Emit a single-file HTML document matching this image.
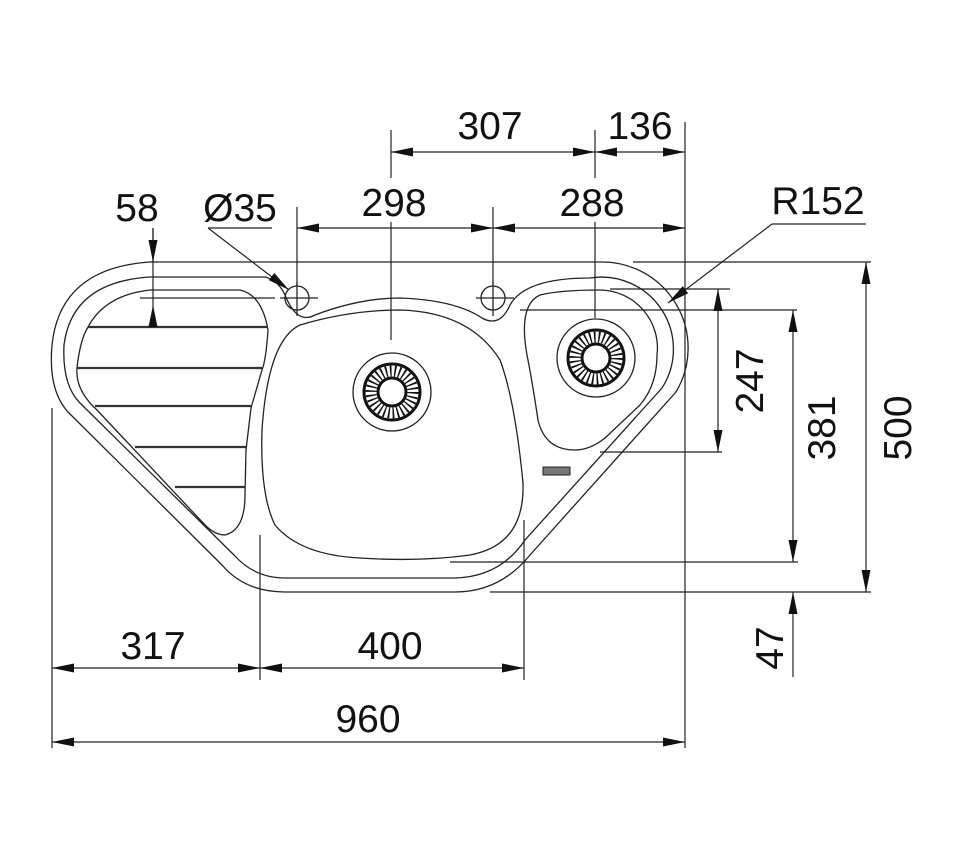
<!DOCTYPE html>
<html><head><meta charset="utf-8"><style>
html,body{margin:0;padding:0;background:#fff}
svg{display:block}
text{font-family:"Liberation Sans",Arial,sans-serif;font-size:39px;fill:#111}
</style></head><body>
<svg width="960" height="860" viewBox="0 0 960 860" xmlns="http://www.w3.org/2000/svg">
<defs>
<marker id="a" viewBox="0 0 22 9" refX="22" refY="4.5" markerWidth="22" markerHeight="9" markerUnits="userSpaceOnUse" orient="auto-start-reverse">
<path d="M0,0 L22,4.5 L0,9 Z" fill="#111"/></marker>
<g id="drain">
<circle r="39" fill="none" stroke="#222" stroke-width="1.3"/>
<circle r="28" fill="none" stroke="#111" stroke-width="3"/>
<circle r="14" fill="none" stroke="#111" stroke-width="3"/>
<circle r="21" fill="none" stroke="#111" stroke-width="11" stroke-dasharray="1.6 2.8"/>
</g>
</defs>
<g fill="none" stroke="#222" stroke-width="1.3">
<path d="M150,262 L600,262 A86,86 0 0 1 676,392 L530,555 Q500,592 455,592 L285,592 Q245,592 222,565 L68,412 Q48,390 52,345 Q60,268 150,262 Z"/>
<path d="M150,277 L265,277 Q278,280 285,295 Q297,325 315,315 Q360,298 400,298 Q455,300 482,318 Q500,328 510,305 Q525,278 590,278 A72,72 0 0 1 662,388 L525,540 Q500,577 455,578 L285,578 Q255,578 235,556 L80,403 Q62,385 64,345 Q72,282 150,277 Z"/>
<path d="M300,325 Q350,310 400,310 Q470,312 500,360 Q515,400 523,483 Q525,545 470,555 Q420,562 360,558 Q300,555 275,525 Q260,495 262,430 Q268,340 300,325 Z"/>
<path d="M540,295 Q560,290 600,290 A58,58 0 0 1 657,355 Q657,385 640,405 L605,438 Q590,450 575,450 Q545,450 538,420 Q532,380 527,355 Q518,305 540,295 Z"/>
<path d="M88,327 Q105,295 150,290 L240,290 Q262,295 268,330 Q266,360 262,370 L251,408 L246,450 L245,495 Q245,530 225,535 Q215,535 205,525 L97,410 Q75,390 77,368 Q80,340 88,327 Z"/>
</g>
<g stroke="#333" stroke-width="2.2">
<line x1="88" y1="327" x2="268" y2="327"/>
<line x1="77" y1="368" x2="262" y2="368"/>
<line x1="95" y1="406" x2="251" y2="406"/>
<line x1="135" y1="447" x2="246" y2="447"/>
<line x1="175" y1="487" x2="245" y2="487"/>
</g>
<g fill="none" stroke="#222" stroke-width="1.3">
<circle cx="297" cy="298" r="12"/><line x1="280" y1="298" x2="318" y2="298"/><line x1="297" y1="282" x2="297" y2="316"/>
<circle cx="493" cy="298" r="12"/><line x1="476" y1="298" x2="514" y2="298"/><line x1="493" y1="282" x2="493" y2="316"/>
</g>
<use href="#drain" x="392" y="392"/>
<use href="#drain" x="596" y="358"/>
<rect x="543" y="467" width="27" height="8" fill="#777" stroke="#222" stroke-width="1"/>
<g stroke="#222" stroke-width="1.2" fill="none">
<line x1="391" y1="130" x2="391" y2="178"/><line x1="391" y1="222" x2="391" y2="340"/>
<line x1="595" y1="130" x2="595" y2="178"/><line x1="595" y1="222" x2="595" y2="318"/>
<line x1="685" y1="122" x2="685" y2="748"/>
<line x1="297" y1="207" x2="297" y2="285"/>
<line x1="493" y1="207" x2="493" y2="285"/>
<line x1="153" y1="228" x2="153" y2="327"/>
<line x1="140" y1="298" x2="275" y2="298"/>
<line x1="633" y1="262" x2="871" y2="262"/>
<line x1="610" y1="289" x2="730" y2="289"/>
<line x1="520" y1="310" x2="797" y2="310"/>
<line x1="600" y1="452" x2="722" y2="452"/>
<line x1="450" y1="562" x2="798" y2="562"/>
<line x1="490" y1="592" x2="871" y2="592"/>
<line x1="52" y1="408" x2="52" y2="748"/>
<line x1="260" y1="535" x2="260" y2="680"/>
<line x1="524" y1="520" x2="524" y2="680"/>
<line x1="208" y1="228" x2="272" y2="228"/>
<line x1="772" y1="224" x2="866" y2="224"/>
</g>
<path d="M148.5,327 L153,305 L157.5,327 Z" fill="#111"/>
<g stroke="#222" stroke-width="1.2" fill="none" marker-end="url(#a)" marker-start="url(#a)">
<line x1="391" y1="152" x2="595" y2="152"/>
<line x1="595" y1="152" x2="685" y2="152"/>
<line x1="297" y1="228" x2="493" y2="228"/>
<line x1="493" y1="228" x2="685" y2="228"/>
<line x1="718" y1="289" x2="718" y2="452"/>
<line x1="793" y1="310" x2="793" y2="562"/>
<line x1="866" y1="262" x2="866" y2="592"/>
<line x1="52" y1="668" x2="260" y2="668"/>
<line x1="260" y1="668" x2="524" y2="668"/>
<line x1="52" y1="742" x2="685" y2="742"/>
</g>
<g stroke="#222" stroke-width="1.2" fill="none" marker-end="url(#a)">
<line x1="153" y1="228" x2="153" y2="262"/>
<line x1="208" y1="228" x2="289" y2="290"/>
<line x1="772" y1="224" x2="668" y2="303"/>
<line x1="793" y1="677" x2="793" y2="592"/>
</g>
<text x="490" y="139" text-anchor="middle">307</text>
<text x="640" y="139" text-anchor="middle">136</text>
<text x="394" y="216" text-anchor="middle">298</text>
<text x="592" y="216" text-anchor="middle">288</text>
<text x="137" y="221" text-anchor="middle">58</text>
<text x="240" y="221" text-anchor="middle">Ø35</text>
<text x="818" y="214" text-anchor="middle">R152</text>
<text x="153" y="659" text-anchor="middle">317</text>
<text x="390" y="659" text-anchor="middle">400</text>
<text x="368" y="732" text-anchor="middle">960</text>
<text transform="translate(763,381) rotate(-90)" text-anchor="middle">247</text>
<text transform="translate(835,428) rotate(-90)" text-anchor="middle">381</text>
<text transform="translate(911,428) rotate(-90)" text-anchor="middle">500</text>
<text transform="translate(783,648) rotate(-90)" text-anchor="middle">47</text>
</svg>
</body></html>
